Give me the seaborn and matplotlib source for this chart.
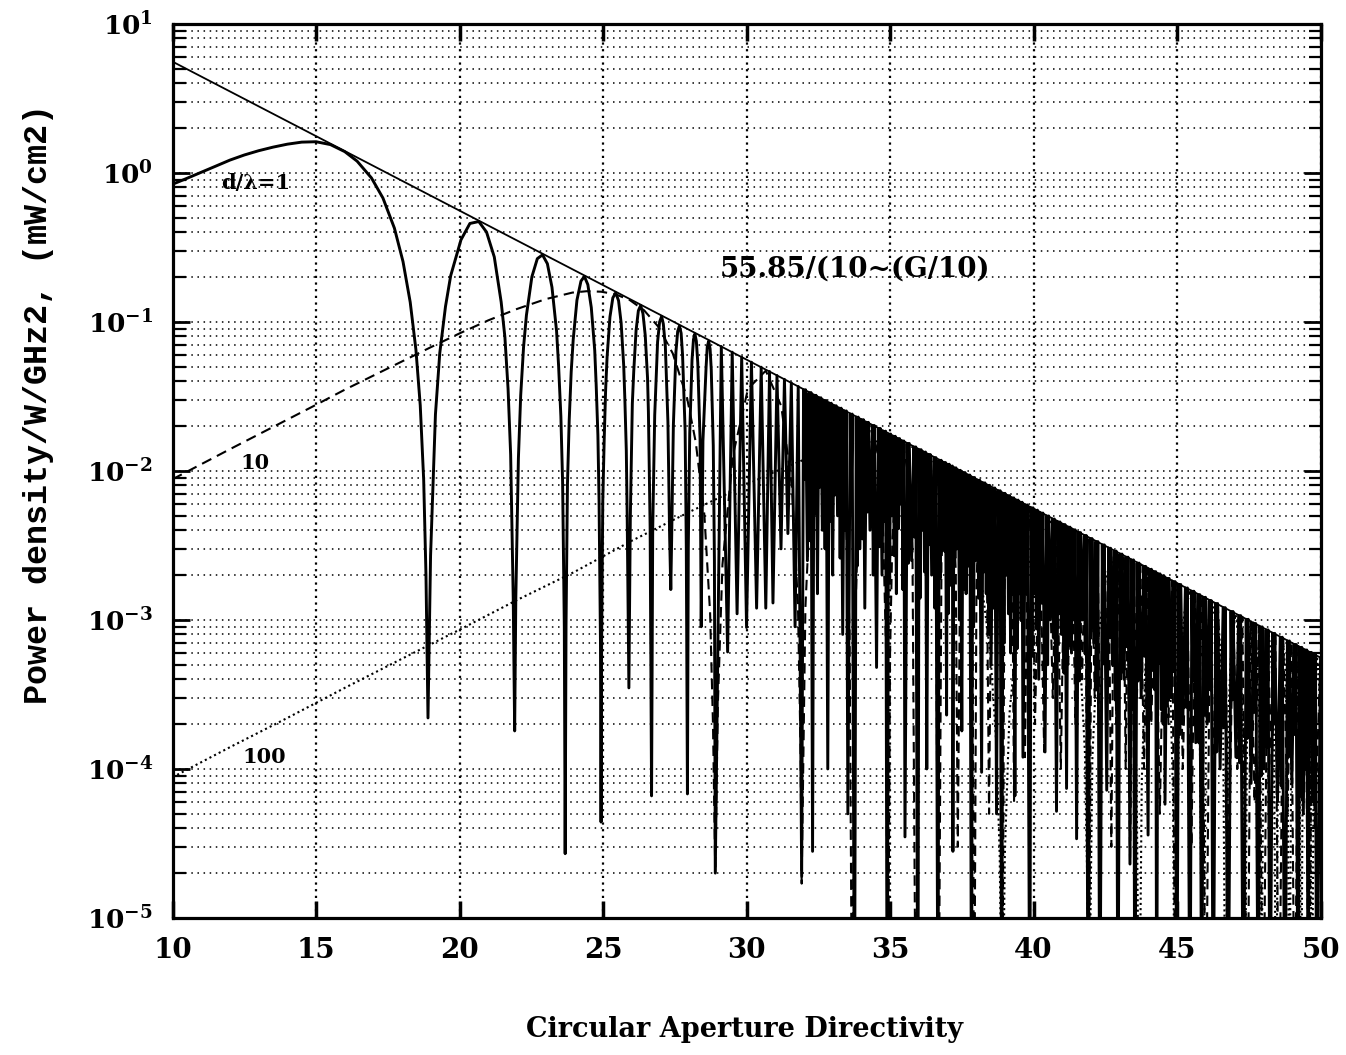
import numpy as np
import pandas as pd
import matplotlib
matplotlib.use("Agg")
import matplotlib.pyplot as plt
import seaborn as sns
from matplotlib.ticker import LogLocator, NullFormatter

# ---------------- data ----------------
XTICKS = [10, 15, 20, 25, 30, 35, 40, 45, 50]
XTICK_LABELS = ["10", "15", "20", "25", "30", "35", "40", "45", "50"]
YTICKS = [1e-5, 1e-4, 1e-3, 1e-2, 1e-1, 1e0, 1e1]
YTICK_EXP = [-5, -4, -3, -2, -1, 0, 1]

# envelope 55.85/(10^(G/10))
ENV_X = [10, 50]
ENV_Y = [5.585, 5.585e-4]

# d/lambda = 1 (solid): resolved lobes
SOLID_MAIN_X = [10.0, 10.5, 11.0, 11.5, 12.0, 12.5, 13.0, 13.5, 14.0, 14.5, 15.0, 15.5, 16.0,
                16.43, 16.93, 17.33, 17.73, 18.03, 18.28, 18.48, 18.63, 18.75, 18.83, 18.9,
                18.99, 19.16, 19.31, 19.51, 19.69, 20.05, 20.36, 20.67, 20.94, 21.21, 21.45, 21.58,
                21.69, 21.78, 21.87, 21.92,
                21.96, 22.05, 22.13, 22.23, 22.33, 22.52, 22.71, 22.89, 23.06, 23.22, 23.38, 23.45,
                23.53, 23.59, 23.65, 23.68,
                23.71, 23.76, 23.82, 23.89, 23.96, 24.09, 24.23, 24.35, 24.47, 24.59, 24.71, 24.76,
                24.82, 24.86, 24.91, 24.93,
                24.95, 24.99, 25.04, 25.09, 25.14, 25.24, 25.34, 25.44, 25.54, 25.63, 25.72, 25.76,
                25.81, 25.84, 25.90,
                25.95, 26.02, 26.07, 26.15, 26.23, 26.31, 26.39, 26.47, 26.55, 26.58, 26.64, 26.69,
                26.73, 26.80, 26.90, 26.97, 27.04, 27.10, 27.17, 27.26, 27.32, 27.36,
                27.39, 27.45, 27.54, 27.60, 27.66, 27.72, 27.77, 27.86, 27.90, 27.94,
                27.97, 28.02, 28.10, 28.15, 28.20, 28.25, 28.30, 28.38, 28.42,
                28.48, 28.59, 28.63, 28.68, 28.73, 28.77, 28.84, 28.88, 28.91]
SOLID_MAIN_Y = [0.84, 0.92, 1.01, 1.11, 1.22, 1.32, 1.41, 1.49, 1.56, 1.61, 1.62, 1.55, 1.39,
                1.2, 0.926, 0.679, 0.426, 0.254, 0.136, 0.065, 0.0276, 0.0087, 0.002, 2.2e-4,
                0.0027, 0.024, 0.0617, 0.127, 0.204, 0.356, 0.458, 0.472, 0.401, 0.273, 0.136, 0.079,
                0.0356, 0.0129, 0.0014, 1.8e-4,
                0.0014, 0.0121, 0.0321, 0.0678, 0.111, 0.201, 0.266, 0.282, 0.246, 0.171, 0.087, 0.0511,
                0.0233, 0.0085, 0.0009, 2.7e-5,
                0.00092, 0.0082, 0.0218, 0.0463, 0.0762, 0.140, 0.188, 0.202, 0.178, 0.125, 0.0643, 0.0379,
                0.0174, 0.0064, 0.0007, 4.4e-5,
                0.0007, 0.0062, 0.0164, 0.0351, 0.058, 0.108, 0.145, 0.157, 0.139, 0.0985, 0.0507, 0.0301,
                0.0137, 0.0051, 3.5e-4,
                0.0049, 0.0283, 0.0469, 0.0874, 0.119, 0.129, 0.114, 0.0812, 0.042, 0.0249, 0.0042, 6.6e-5,
                0.0041, 0.0237, 0.0735, 0.100, 0.109, 0.097, 0.0691, 0.0213, 0.0036, 1.6e-3,
                0.0035, 0.0203, 0.0633, 0.0864, 0.094, 0.0841, 0.060, 0.0185, 0.0031, 6.8e-5,
                0.0031, 0.0179, 0.0557, 0.0762, 0.0832, 0.0744, 0.0533, 0.0164, 9e-4,
                0.0159, 0.0498, 0.068, 0.0744, 0.066, 0.0477, 0.0148, 0.0025, 2e-5]
SOLID_MID_X = [29.12, 29.34, 29.5, 29.67, 29.83, 30.0, 30.17, 30.35, 30.51, 30.67, 30.8, 30.92,
               31.06, 31.2, 31.32, 31.44, 31.56, 31.69, 31.8, 31.92]
SOLID_MID_Y = [0.0684, 6.1e-4, 0.0627, 1.1e-3, 0.0581, 8.9e-4, 0.0537, 1.2e-3, 0.0497, 1.2e-3,
               0.0465, 1.3e-3, 0.0437, 3e-3, 0.0412, 3.8e-3, 0.039, 9e-4, 0.0369, 1.9e-5]

# d/lambda = 1 (solid): unresolved fringe region (lobe tops, notch inside each top, nulls)
SOLID_TOP_X = [32.02, 32.21, 32.385, 32.555, 32.735, 32.915, 33.085, 33.26, 33.44, 33.645,
               33.855, 34.035, 34.21, 34.415, 34.625, 34.81, 34.985, 35.145, 35.295, 35.445,
               35.635, 35.86, 36.045, 36.20, 36.365, 36.56, 36.745, 36.895, 37.025, 37.135,
               37.26, 37.415, 37.575, 37.745, 37.91, 38.085, 38.27, 38.435, 38.615, 38.80,
               38.97, 39.125, 39.275, 39.425, 39.565, 39.75, 39.945, 40.10, 40.29, 40.49,
               40.69, 40.885, 41.06, 41.235, 41.41, 41.60, 41.80, 42.00, 42.205, 42.43,
               42.65, 42.845, 43.045, 43.255, 43.445, 43.64, 43.87, 44.07, 44.22, 44.37,
               44.515, 44.69, 44.895, 45.095, 45.325, 45.55, 45.755, 45.955, 46.155, 46.38,
               46.64, 46.915, 47.18, 47.445, 47.705, 47.93, 48.135, 48.37, 48.63, 48.88,
               49.11, 49.31, 49.485, 49.645, 49.79]
SOLID_TOP_Y = [0.0351, 0.0336, 0.0322, 0.0310, 0.0297, 0.0285, 0.0274, 0.0264, 0.0253, 0.0241,
               0.0230, 0.0221, 0.0212, 0.0202, 0.0193, 0.0185, 0.0177, 0.0171, 0.0165, 0.0159,
               0.0153, 0.0145, 0.0139, 0.0134, 0.0129, 0.0123, 0.0118, 0.0114, 0.0111, 0.0108,
               0.0105, 0.0101, 0.00976, 0.00939, 0.00904, 0.00868, 0.00832, 0.00801, 0.00769, 0.00737,
               0.00708, 0.00683, 0.00660, 0.00638, 0.00617, 0.00592, 0.00566, 0.00546, 0.00522, 0.00499,
               0.00476, 0.00455, 0.00437, 0.00420, 0.00403, 0.00386, 0.00369, 0.00352, 0.00336, 0.00319,
               0.00303, 0.00290, 0.00277, 0.00264, 0.00253, 0.00241, 0.00229, 0.00219, 0.00211, 0.00204,
               0.00197, 0.00190, 0.00181, 0.00173, 0.00164, 0.00156, 0.00148, 0.00142, 0.00135, 0.00129,
               0.00121, 0.00114, 0.00107, 0.00101, 0.000947, 0.000899, 0.000858, 0.000813, 0.000766, 0.000723,
               0.000685, 0.000655, 0.000629, 0.000606, 0.000586]
SOLID_NOTCH_Y = [0.0088, 0.0034, 0.0052, 0.0078, 0.0030, 0.0046, 0.0069, 0.0026, 0.0040, 0.0060,
                 0.0023, 0.0035, 0.0053, 0.0020, 0.0031, 0.0046, 0.0018, 0.0027, 0.0041, 0.0016,
                 0.0024, 0.0036, 0.0014, 0.0021, 0.0032, 0.0012, 0.0019, 0.0029, 0.0011, 0.0017,
                 0.0026, 0.0010, 0.0016, 0.0023, 0.0009, 0.0014, 0.0021, 0.0008, 0.0012, 0.0018,
                 0.0007, 0.0011, 0.0017, 0.00064, 0.00099, 0.0015, 0.00057, 0.00087, 0.0013, 0.0005,
                 0.00076, 0.0011, 0.00044, 0.00067, 0.0010, 0.00039, 0.00059, 0.00088, 0.00034, 0.00051,
                 0.00076, 0.00029, 0.00044, 0.00066, 0.00025, 0.00039, 0.00057, 0.00022, 0.00034, 0.00051,
                 0.0002, 0.0003, 0.00045, 0.00017, 0.00026, 0.00039, 0.00015, 0.00023, 0.00034, 0.00013,
                 0.00019, 0.00029, 0.00011, 0.00016, 0.00024, 0.00009, 0.00014, 0.0002, 0.000077, 0.00012,
                 0.00017, 0.000066, 0.0001, 0.00015, 0.000059]
SOLID_NULL_X = [32.12, 32.30, 32.47, 32.64, 32.83, 33.00, 33.17, 33.35, 33.53, 33.76,
                33.95, 34.12, 34.30, 34.53, 34.72, 34.90, 35.07, 35.22, 35.37, 35.52,
                35.75, 35.97, 36.12, 36.28, 36.45, 36.67, 36.82, 36.97, 37.08, 37.19,
                37.33, 37.50, 37.65, 37.84, 37.98, 38.19, 38.35, 38.52, 38.71, 38.89,
                39.05, 39.20, 39.35, 39.50, 39.63, 39.87, 40.02, 40.18, 40.40, 40.58,
                40.80, 40.97, 41.15, 41.32, 41.50, 41.70, 41.90, 42.10, 42.31, 42.55,
                42.75, 42.94, 43.15, 43.36, 43.53, 43.75, 43.99, 44.15, 44.29, 44.45,
                44.58, 44.80, 44.99, 45.20, 45.45, 45.65, 45.86, 46.05, 46.26, 46.50,
                46.78, 47.05, 47.31, 47.58, 47.83, 48.03, 48.24, 48.50, 48.76, 49.00,
                49.22, 49.40, 49.57, 49.72, 49.86]
SOLID_NULL_Y = [2.5e-3, 2.8e-5, 1.5e-3, 4e-3, 1e-4, 2e-3, 5e-3, 8e-4, 5e-5, 1e-6,
                3e-3, 1.2e-3, 4e-3, 4.8e-4, 2e-3, 1e-6, 5e-3, 1.5e-3, 6e-3, 3.5e-5,
                2.5e-3, 1e-6, 4e-3, 1e-4, 2e-3, 1e-6, 3e-3, 2.3e-4, 2e-3, 2.8e-5,
                3e-3, 1.8e-4, 1.5e-3, 1e-6, 2.5e-3, 9.5e-5, 1.5e-3, 5e-4, 5e-5, 1e-6,
                2e-3, 6e-4, 6.6e-5, 1.5e-3, 1.2e-4, 1e-6, 1.5e-3, 4e-4, 1.3e-4, 1e-3,
                5.2e-5, 8e-4, 7.4e-5, 6e-4, 3.4e-5, 1e-3, 1e-6, 7e-4, 1e-6, 7.2e-5,
                5e-4, 1e-6, 4e-4, 2.3e-5, 1e-6, 3e-4, 3.6e-5, 5e-4, 1e-6, 2.5e-4,
                5.8e-5, 3e-4, 1e-6, 2e-4, 1e-6, 1.5e-4, 1e-6, 2e-4, 1e-6, 1e-4,
                1e-6, 1.2e-4, 1e-6, 8e-5, 1e-6, 1e-4, 1e-6, 6e-5, 1e-6, 8e-5,
                1e-6, 5e-5, 1e-6, 6e-5, 1e-6]
SOLID_END_X = [50.0]
SOLID_END_Y = [0.000559]

# d/lambda = 10 (dashed)
DASHED_MAIN_X = [10, 11, 12, 13, 14, 15, 16, 17, 18, 19, 20, 21, 22, 23, 23.93, 24.43, 24.93,
                 25.43, 25.93, 26.43, 26.93, 27.43, 27.93, 28.23, 28.53, 28.73, 28.83, 28.91,
                 29.0, 29.16, 29.52, 30.05, 30.67, 31.21, 31.58, 31.79, 31.88, 31.92,
                 32.05, 32.23, 32.53, 32.89, 33.22, 33.46, 33.59, 33.68,
                 33.77, 33.89, 34.09, 34.35, 34.59, 34.76, 34.86, 34.92,
                 35.0, 35.08, 35.24, 35.43, 35.62, 35.78, 35.9,
                 36.02, 36.15, 36.31, 36.47, 36.6, 36.69,
                 36.79, 36.9, 37.04, 37.18, 37.29, 37.36,
                 37.44, 37.55, 37.66, 37.78, 37.87, 37.93,
                 38.01, 38.1, 38.19, 38.29, 38.38, 38.45,
                 38.52, 38.6, 38.68, 38.77, 38.85, 38.91,
                 38.98, 39.05, 39.12, 39.2, 39.27, 39.32,
                 39.38, 39.45, 39.52, 39.59, 39.65, 39.7,
                 39.76, 39.82, 39.88, 39.95, 40.0, 40.05]
DASHED_MAIN_Y = [8.8e-3, 0.0111, 0.0140, 0.0176, 0.0221, 0.0278, 0.0351, 0.0437, 0.0545, 0.0677,
                 0.0838, 0.1025, 0.1222, 0.1423, 0.1574, 0.1608, 0.1596, 0.1535, 0.1403, 0.1197,
                 0.0927, 0.0614, 0.0307, 0.0156, 0.00508, 0.00111, 2e-4, 2e-5,
                 2.7e-4, 2.35e-3, 0.0126, 0.0356, 0.0471, 0.0272, 0.00787, 0.00128, 1.4e-4, 1.7e-5,
                 0.00121, 0.00678, 0.0201, 0.0282, 0.0171, 0.0051, 0.00085, 1e-6,
                 8.2e-4, 0.00463, 0.0140, 0.0202, 0.0125, 0.00379, 6.4e-4, 1e-6,
                 6e-4, 0.0035, 0.0108, 0.0158, 0.0098, 0.003, 1e-6,
                 0.0027, 0.0088, 0.0130, 0.0082, 0.0025, 1e-6,
                 0.0024, 0.0073, 0.0109, 0.0069, 0.0021, 3e-5,
                 0.002, 0.0063, 0.0096, 0.006, 0.0018, 1e-6,
                 0.0017, 0.0055, 0.0083, 0.0052, 0.0016, 5e-5,
                 0.0015, 0.0049, 0.0075, 0.0047, 0.0014, 1e-6,
                 0.0014, 0.0045, 0.0068, 0.0043, 0.0013, 6e-5,
                 0.0013, 0.004, 0.0062, 0.0039, 0.0012, 1.2e-4,
                 0.0011, 0.0037, 0.0057, 0.0036, 0.0011, 2e-4]
DASHED_DENSE_X = [40.21, 40.37, 40.52, 40.67, 40.81, 40.95, 41.08, 41.21, 41.335, 41.46, 41.575,
                  41.69, 41.805, 41.92, 42.025, 42.13, 42.23, 42.33, 42.425, 42.52, 42.615, 42.71,
                  42.795, 42.88, 42.965, 43.05, 43.13, 43.21, 43.285, 43.36, 43.48, 43.6, 43.725,
                  43.85, 43.975, 44.1, 44.25, 44.4, 44.55, 44.7, 44.825, 44.95, 45.075, 45.2, 45.35,
                  45.5, 45.625, 45.75, 45.875, 46.0, 46.15, 46.3, 46.425, 46.55, 46.675, 46.8, 46.95,
                  47.1, 47.275, 47.45, 47.575, 47.7, 47.85, 48.0, 48.15, 48.3, 48.425, 48.55, 48.7,
                  48.85, 48.975, 49.1, 49.225, 49.35, 49.475, 49.6, 49.7, 49.8, 50.0]
DASHED_DENSE_Y = [0.00532, 1.3e-4, 0.00495, 3e-4, 0.00463, 1e-4, 0.00436, 5e-4, 0.00411, 2e-4, 0.00389,
                  4e-4, 0.00368, 1e-6, 0.00350, 3e-4, 0.00334, 1e-4, 0.00320, 5e-4, 0.00306, 3e-5,
                  0.00293, 2e-4, 0.00282, 4e-4, 0.00272, 1e-4, 0.00262, 2.3e-5, 0.00251, 3e-4, 0.00237,
                  1e-4, 0.00224, 2e-4, 0.00210, 5e-5, 0.00196, 2e-4, 0.00184, 1e-6, 0.00174, 1e-4, 0.00163,
                  3e-5, 0.00153, 2e-4, 0.00144, 1e-6, 0.00136, 8e-5, 0.00127, 2e-4, 0.00120, 2e-5, 0.00113,
                  1e-4, 0.00105, 1e-6, 0.000976, 6e-5, 0.000916, 1e-6, 0.000855, 1e-4, 0.000802, 1e-6, 0.000753,
                  5e-5, 0.000707, 1e-6, 0.000668, 6e-5, 0.000630, 1e-6, 0.000598, 4e-5, 0.00056]

# d/lambda = 100 (dotted)
DOTTED_X = [10, 12, 14, 16, 18, 20, 22, 24, 26, 28, 30, 31, 32, 33, 34, 34.7, 35.3, 35.9, 36.4,
            36.9, 37.4, 37.8, 38.2, 38.5, 38.7, 38.82, 38.91,
            39.0, 39.16, 39.52, 40.05, 40.67, 41.21, 41.58, 41.79, 41.88, 41.92,
            42.05, 42.23, 42.53, 42.89, 43.22, 43.46, 43.59, 43.68,
            43.77, 43.89, 44.09, 44.35, 44.59, 44.76, 44.86, 44.92,
            45.08, 45.24, 45.43, 45.62, 45.78, 45.9,
            46.02, 46.15, 46.31, 46.47, 46.6, 46.69,
            46.79, 46.9, 47.04, 47.18, 47.29, 47.36,
            47.44, 47.55, 47.66, 47.78, 47.87, 47.93,
            48.01, 48.1, 48.19, 48.29, 48.38, 48.45,
            48.52, 48.6, 48.68, 48.77, 48.85, 48.91,
            48.98, 49.05, 49.12, 49.2, 49.27, 49.32,
            49.38, 49.45, 49.52, 49.59, 49.65, 49.7,
            49.76, 49.82, 49.88, 49.95, 50.0]
DOTTED_Y = [8.8e-5, 1.4e-4, 2.2e-4, 3.5e-4, 5.5e-4, 8.6e-4, 1.36e-3, 2.1e-3, 3.4e-3, 5.3e-3,
            8.1e-3, 9.9e-3, 0.0119, 0.0139, 0.0154, 0.0159, 0.0156, 0.0142, 0.0122,
            0.0096, 0.0063, 0.0038, 0.0017, 5.8e-4, 1.5e-4, 2.6e-5, 1e-6,
            2.7e-5, 2.35e-4, 1.26e-3, 3.56e-3, 4.71e-3, 2.72e-3, 7.9e-4, 1.28e-4, 1.4e-5, 1e-6,
            1.2e-4, 6.8e-4, 2.0e-3, 2.82e-3, 1.71e-3, 5.1e-4, 8.5e-5, 1e-6,
            8.2e-5, 4.6e-4, 1.4e-3, 2.02e-3, 1.25e-3, 3.8e-4, 6.4e-5, 1e-6,
            3.5e-4, 1.08e-3, 1.58e-3, 9.8e-4, 3e-4, 1e-6,
            2.7e-4, 8.8e-4, 1.3e-3, 8.2e-4, 2.5e-4, 1e-6,
            2.4e-4, 7.3e-4, 1.09e-3, 6.9e-4, 2.1e-4, 1e-6,
            2e-4, 6.3e-4, 9.6e-4, 6e-4, 1.8e-4, 1e-6,
            1.7e-4, 5.5e-4, 8.3e-4, 5.2e-4, 1.6e-4, 1e-6,
            1.5e-4, 4.9e-4, 7.5e-4, 4.7e-4, 1.4e-4, 1e-6,
            1.4e-4, 4.5e-4, 6.8e-4, 4.3e-4, 1.3e-4, 1e-6,
            1.3e-4, 4e-4, 6.2e-4, 3.9e-4, 1.2e-4, 1e-6,
            1.1e-4, 3.7e-4, 5.7e-4, 3.6e-4, 1.1e-4]

LABEL_1 = "d/λ=1"
LABEL_10 = "10"
LABEL_100 = "100"
LABEL_ENV = "55.85/(10~(G/10)"
XLABEL = "Circular Aperture Directivity"
YLABEL = "Power density/W/GHz2, (mW/cm2)"

# ---------------- figure ----------------
sns.set_theme(style="white")
plt.rcParams["font.family"] = ["DejaVu Serif"]
for k in ["text.color", "axes.labelcolor", "xtick.color", "ytick.color", "axes.edgecolor"]:
    plt.rcParams[k] = "black"
plt.rcParams["mathtext.fontset"] = "custom"
plt.rcParams["mathtext.rm"] = "DejaVu Serif:bold"
plt.rcParams["mathtext.it"] = "DejaVu Serif:bold"
plt.rcParams["mathtext.bf"] = "DejaVu Serif:bold"

fig = plt.figure(figsize=(13.46, 10.55), dpi=100)
fig.patch.set_facecolor("white")
ax = fig.add_axes([0.1282, 0.1299, 0.8529, 0.8474])
ax.set_facecolor("white")


def series(xs, ys):
    assert len(xs) == len(ys), (len(xs), len(ys))
    return pd.DataFrame({"G": xs, "P": ys})


# build the unresolved fringe path: top (with notch) then null, repeated
NOTCH_HALF = 0.035
assert len(SOLID_TOP_X) == len(SOLID_TOP_Y) == len(SOLID_NOTCH_Y) == len(SOLID_NULL_X) == len(SOLID_NULL_Y)
fx, fy = [], []
for tx, ty, ny, nx, nny in zip(SOLID_TOP_X, SOLID_TOP_Y, SOLID_NOTCH_Y, SOLID_NULL_X, SOLID_NULL_Y):
    fx += [tx - NOTCH_HALF, tx, tx + NOTCH_HALF, nx]
    fy += [ty, ny, ty, nny]

solid = series(SOLID_MAIN_X + SOLID_MID_X + fx + SOLID_END_X,
               SOLID_MAIN_Y + SOLID_MID_Y + fy + SOLID_END_Y)
dashed = series(DASHED_MAIN_X + DASHED_DENSE_X, DASHED_MAIN_Y + DASHED_DENSE_Y)
dotted = series(DOTTED_X, DOTTED_Y)
env = series(ENV_X, ENV_Y)

ax.set_yscale("log")
ax.set_xlim(10, 50)
ax.set_ylim(1e-5, 1e1)

sns.lineplot(data=dotted, x="G", y="P", sort=False, estimator=None, ax=ax,
             color="black", linewidth=1.5, linestyle=(0, (1, 1.5)), zorder=3)
sns.lineplot(data=dashed, x="G", y="P", sort=False, estimator=None, ax=ax,
             color="black", linewidth=1.5, linestyle=(0, (5, 3)), zorder=3)
sns.lineplot(data=solid, x="G", y="P", sort=False, estimator=None, ax=ax,
             color="black", linewidth=2.1, zorder=4)
sns.lineplot(data=env, x="G", y="P", sort=False, estimator=None, ax=ax,
             color="black", linewidth=1.3, zorder=5)

# axes, ticks and grid
ax.set_xticks(XTICKS)
ax.set_xticklabels(XTICK_LABELS, fontsize=20, fontweight="bold")
ax.set_yticks(YTICKS)
ax.set_yticklabels([r"$\mathbf{10^{%d}}$" % e for e in YTICK_EXP], fontsize=19)
ax.yaxis.set_minor_locator(LogLocator(base=10, subs=np.arange(2, 10), numticks=20))
ax.yaxis.set_minor_formatter(NullFormatter())
ax.set_xlim(10, 50)
ax.set_ylim(1e-5, 1e1)

ax.yaxis.grid(True, which="both", color="black", linestyle=(0, (1, 3)), linewidth=1.1, zorder=1)
ax.xaxis.grid(True, which="major", color="black", linestyle=(0, (1, 2)), linewidth=1.6, zorder=1)
ax.set_axisbelow(True)

ax.tick_params(axis="x", which="major", direction="in", top=True, bottom=True,
               length=12, width=2.5, pad=14, colors="black")
ax.tick_params(axis="y", which="major", direction="in", left=True, right=True,
               length=12, width=2.0, pad=14, colors="black")
ax.tick_params(axis="y", which="minor", direction="in", left=True, right=True,
               length=9, width=1.6, colors="black")
for s in ax.spines.values():
    s.set_color("black")
    s.set_linewidth(2.3)

ax.set_xlabel(XLABEL, fontsize=19.5, fontweight="bold")
ax.xaxis.set_label_coords(0.4986, -0.125)
ax.xaxis.label.set_va("center")
ax.set_ylabel(YLABEL, fontsize=24, fontweight="bold", family=["Liberation Mono", "DejaVu Sans Mono"])
ax.yaxis.set_label_coords(-0.117, 0.575)
ax.yaxis.label.set_va("center")

# annotations
ax.text(11.7, 0.86, LABEL_1, fontsize=15, fontweight="bold", va="center", ha="left", zorder=6)
ax.text(12.35, 0.0113, LABEL_10, fontsize=15, fontweight="bold", va="center", ha="left", zorder=6)
ax.text(12.45, 1.2e-4, LABEL_100, fontsize=15, fontweight="bold", va="center", ha="left", zorder=6)
ax.text(29.08, 0.225, LABEL_ENV, fontsize=20, fontweight="bold", va="center", ha="left", zorder=6)

fig.savefig("out.png", dpi=100, facecolor="white")
